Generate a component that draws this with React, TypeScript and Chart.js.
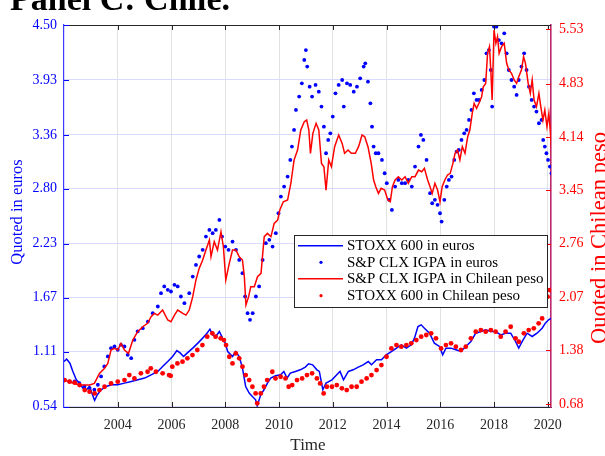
import React, { useEffect, useRef } from "react";
import { Chart, registerables } from "chart.js";

Chart.register(...registerables);

const SERIF = '"Liberation Serif", "Times New Roman", serif';

const xTickYears = [2004, 2006, 2008, 2010, 2012, 2014, 2016, 2018, 2020];
const leftTicks = [0.54, 1.11, 1.67, 2.23, 2.8, 3.36, 3.93, 4.5];
const rightTicks = [0.68, 1.38, 2.07, 2.76, 3.45, 4.14, 4.83, 5.53];

const legendLabels = [
  "STOXX 600 in euros",
  "S&P CLX IGPA in euros",
  "S&P CLX IGPA in Chilean peso",
  "STOXX 600 in Chilean peso",
];

// STOXX 600 in euros (left axis, line)
const stoxxEuros: [number, number][] = [
  [2002.0, 1.007], [2002.1, 1.032], [2002.22, 0.99], [2002.33, 0.904], [2002.46, 0.817], [2002.58, 0.783],
  [2002.7, 0.731], [2002.83, 0.713], [2002.95, 0.748], [2003.06, 0.662], [2003.14, 0.603], [2003.24, 0.662],
  [2003.38, 0.713], [2003.57, 0.748], [2003.76, 0.766], [2004.0, 0.766], [2004.25, 0.783], [2004.5, 0.8],
  [2004.75, 0.817], [2005.0, 0.835], [2005.24, 0.869], [2005.49, 0.904], [2005.67, 0.955], [2005.86, 1.007],
  [2006.04, 1.06], [2006.2, 1.12], [2006.33, 1.094], [2006.45, 1.06], [2006.58, 1.094], [2006.79, 1.146],
  [2006.98, 1.198], [2007.16, 1.25], [2007.32, 1.3], [2007.43, 1.343], [2007.53, 1.284], [2007.65, 1.267],
  [2007.78, 1.319], [2007.9, 1.25], [2008.0, 1.2], [2008.09, 1.111], [2008.27, 1.059], [2008.39, 1.111],
  [2008.52, 1.059], [2008.64, 0.939], [2008.76, 0.748], [2008.89, 0.679], [2009.01, 0.644], [2009.13, 0.61],
  [2009.19, 0.548], [2009.32, 0.662], [2009.44, 0.714], [2009.57, 0.783], [2009.69, 0.835], [2009.87, 0.859],
  [2010.06, 0.869], [2010.18, 0.904], [2010.3, 0.835], [2010.42, 0.887], [2010.61, 0.904], [2010.79, 0.921],
  [2010.98, 0.949], [2011.1, 0.983], [2011.25, 0.973], [2011.41, 0.921], [2011.5, 0.904], [2011.63, 0.714],
  [2011.75, 0.783], [2011.97, 0.817], [2012.15, 0.869], [2012.27, 0.904], [2012.4, 0.817], [2012.58, 0.904],
  [2012.76, 0.921], [2012.95, 0.949], [2013.13, 0.973], [2013.32, 1.007], [2013.44, 0.973], [2013.63, 1.025],
  [2013.81, 1.025], [2013.99, 1.077], [2014.18, 1.111], [2014.37, 1.146], [2014.55, 1.18], [2014.74, 1.146],
  [2014.92, 1.18], [2015.04, 1.25], [2015.17, 1.37], [2015.29, 1.388], [2015.41, 1.353], [2015.6, 1.301],
  [2015.78, 1.198], [2015.97, 1.163], [2016.09, 1.077], [2016.21, 1.146], [2016.4, 1.146], [2016.58, 1.129],
  [2016.77, 1.111], [2016.95, 1.163], [2017.14, 1.215], [2017.32, 1.301], [2017.51, 1.318], [2017.69, 1.336],
  [2017.88, 1.318], [2018.06, 1.318], [2018.25, 1.284], [2018.43, 1.301], [2018.62, 1.301], [2018.8, 1.215],
  [2018.92, 1.146], [2019.05, 1.215], [2019.23, 1.301], [2019.42, 1.267], [2019.6, 1.301], [2019.79, 1.353],
  [2019.91, 1.405], [2020.03, 1.44], [2020.14, 1.457],
];

// S&P CLX IGPA in euros (left axis, dots)
const igpaEuros: [number, number][] = [
  [2002.02, 0.817], [2002.2, 0.8], [2002.39, 0.8], [2002.57, 0.783], [2002.76, 0.748], [2002.95, 0.731],
  [2003.13, 0.714], [2003.26, 0.766], [2003.38, 0.852], [2003.5, 0.956], [2003.63, 1.06], [2003.75, 1.146],
  [2003.88, 1.163], [2004.0, 1.129], [2004.12, 1.18], [2004.25, 1.163], [2004.37, 1.077], [2004.5, 1.042],
  [2004.62, 1.232], [2004.74, 1.319], [2004.93, 1.353], [2005.12, 1.422], [2005.3, 1.509], [2005.49, 1.578],
  [2005.61, 1.716], [2005.73, 1.786], [2005.86, 1.751], [2005.98, 1.734], [2006.11, 1.803], [2006.23, 1.786],
  [2006.35, 1.682], [2006.48, 1.613], [2006.66, 1.716], [2006.79, 1.889], [2006.91, 2.01], [2007.03, 2.097],
  [2007.16, 2.166], [2007.28, 2.304], [2007.41, 2.373], [2007.53, 2.339], [2007.65, 2.373], [2007.78, 2.477],
  [2007.88, 2.304], [2008.0, 2.2], [2008.12, 2.166], [2008.27, 2.252], [2008.4, 2.166], [2008.52, 2.062],
  [2008.64, 1.924], [2008.74, 1.682], [2008.83, 1.509], [2008.92, 1.44], [2009.02, 1.509], [2009.14, 1.682],
  [2009.26, 1.786], [2009.39, 2.062], [2009.51, 2.235], [2009.64, 2.27], [2009.76, 2.2], [2009.88, 2.339],
  [2009.98, 2.546], [2010.07, 2.719], [2010.19, 2.823], [2010.32, 2.927], [2010.42, 3.1], [2010.48, 3.238],
  [2010.56, 3.411], [2010.63, 3.618], [2010.75, 3.757], [2010.85, 3.895], [2010.94, 4.137], [2011.0, 4.24],
  [2011.05, 4.068], [2011.14, 3.86], [2011.23, 3.757], [2011.36, 3.878], [2011.48, 3.808], [2011.58, 3.653],
  [2011.67, 3.445], [2011.75, 3.169], [2011.83, 3.307], [2011.91, 3.376], [2012.0, 3.549], [2012.1, 3.791],
  [2012.22, 3.878], [2012.35, 3.929], [2012.41, 3.653], [2012.53, 3.895], [2012.65, 3.878], [2012.78, 3.808],
  [2012.9, 3.86], [2013.02, 3.947], [2013.15, 4.068], [2013.21, 4.102], [2013.31, 3.912], [2013.4, 3.687],
  [2013.46, 3.445], [2013.52, 3.238], [2013.6, 3.169], [2013.7, 3.169], [2013.83, 3.1], [2013.93, 2.961],
  [2014.01, 2.858], [2014.1, 2.685], [2014.2, 2.581], [2014.32, 2.823], [2014.44, 2.892], [2014.57, 2.858],
  [2014.69, 2.858], [2014.81, 2.892], [2014.94, 2.823], [2015.06, 3.03], [2015.19, 3.238], [2015.28, 3.359],
  [2015.37, 3.307], [2015.49, 3.1], [2015.62, 2.754], [2015.7, 2.65], [2015.8, 2.685], [2015.9, 2.633],
  [2015.99, 2.546], [2016.05, 2.46], [2016.15, 2.685], [2016.24, 2.823], [2016.32, 2.892], [2016.42, 2.927],
  [2016.52, 3.1], [2016.61, 3.186], [2016.69, 3.203], [2016.79, 3.307], [2016.89, 3.376], [2016.98, 3.411],
  [2017.07, 3.515], [2017.16, 3.618], [2017.25, 3.791], [2017.35, 3.722], [2017.44, 3.722], [2017.54, 3.826],
  [2017.64, 3.929], [2017.72, 4.206], [2017.81, 4.24], [2017.88, 4.033], [2017.93, 3.653], [2018.0, 4.483],
  [2018.09, 4.483], [2018.18, 4.344], [2018.28, 4.31], [2018.38, 4.414], [2018.47, 4.206], [2018.55, 4.033],
  [2018.65, 3.929], [2018.75, 3.86], [2018.84, 3.774], [2018.92, 3.929], [2019.02, 4.068], [2019.12, 4.206],
  [2019.21, 4.033], [2019.3, 3.86], [2019.4, 3.722], [2019.49, 3.653], [2019.58, 3.601], [2019.67, 3.48],
  [2019.77, 3.515], [2019.83, 3.307], [2019.89, 3.238], [2019.95, 3.169], [2020.01, 3.1], [2020.08, 3.03],
  [2020.14, 2.961],
];

// S&P CLX IGPA in Chilean peso (right axis, line)
const igpaPeso: [number, number][] = [
  [2002.02, 0.995], [2002.2, 0.974], [2002.39, 0.952], [2002.57, 0.931], [2002.76, 0.931], [2002.95, 0.931],
  [2003.13, 0.952], [2003.32, 1.082], [2003.5, 1.146], [2003.63, 1.211], [2003.75, 1.384], [2003.88, 1.405],
  [2004.0, 1.384], [2004.12, 1.47], [2004.25, 1.384], [2004.4, 1.341], [2004.56, 1.513], [2004.74, 1.621],
  [2004.93, 1.685], [2005.11, 1.729], [2005.24, 1.815], [2005.36, 1.858], [2005.49, 1.836], [2005.67, 1.901],
  [2005.86, 1.772], [2005.98, 1.75], [2006.11, 1.836], [2006.23, 1.901], [2006.42, 1.858], [2006.54, 1.836],
  [2006.66, 1.901], [2006.79, 2.074], [2006.91, 2.29], [2007.03, 2.44], [2007.16, 2.548], [2007.28, 2.677],
  [2007.41, 2.807], [2007.47, 2.591], [2007.59, 2.785], [2007.71, 2.677], [2007.84, 2.914], [2007.93, 2.72],
  [2008.02, 2.29], [2008.15, 2.505], [2008.27, 2.677], [2008.4, 2.677], [2008.52, 2.591], [2008.64, 2.548],
  [2008.71, 2.332], [2008.77, 1.966], [2008.87, 2.074], [2008.95, 2.203], [2009.08, 2.203], [2009.2, 2.332],
  [2009.33, 2.375], [2009.45, 2.85], [2009.57, 2.893], [2009.7, 2.85], [2009.82, 3.022], [2009.95, 3.065],
  [2010.03, 3.195], [2010.16, 3.302], [2010.32, 3.324], [2010.44, 3.54], [2010.56, 3.841], [2010.69, 3.971],
  [2010.81, 4.23], [2010.94, 4.337], [2011.03, 4.359], [2011.11, 4.23], [2011.17, 3.928], [2011.26, 4.187],
  [2011.38, 4.316], [2011.48, 4.23], [2011.58, 3.798], [2011.67, 3.755], [2011.75, 3.453], [2011.85, 3.842],
  [2011.95, 3.755], [2012.07, 4.014], [2012.22, 4.165], [2012.35, 4.057], [2012.44, 3.928], [2012.57, 3.971],
  [2012.69, 3.928], [2012.84, 3.928], [2012.96, 4.014], [2013.09, 4.165], [2013.19, 4.143], [2013.31, 4.014],
  [2013.43, 3.798], [2013.52, 3.583], [2013.6, 3.497], [2013.7, 3.41], [2013.8, 3.475], [2013.93, 3.453],
  [2014.05, 3.324], [2014.14, 3.303], [2014.22, 3.497], [2014.32, 3.583], [2014.44, 3.626], [2014.57, 3.583],
  [2014.69, 3.626], [2014.81, 3.54], [2014.94, 3.626], [2015.06, 3.626], [2015.19, 3.712], [2015.31, 3.69],
  [2015.41, 3.734], [2015.53, 3.583], [2015.62, 3.497], [2015.7, 3.41], [2015.8, 3.54], [2015.9, 3.453],
  [2015.99, 3.303], [2016.07, 3.497], [2016.17, 3.583], [2016.27, 3.648], [2016.37, 3.669], [2016.47, 3.798],
  [2016.55, 3.928], [2016.64, 3.971], [2016.73, 3.842], [2016.82, 4.014], [2016.92, 3.928], [2017.02, 4.143],
  [2017.1, 4.23], [2017.19, 4.445], [2017.26, 4.575], [2017.35, 4.51], [2017.44, 4.575], [2017.54, 4.661],
  [2017.6, 4.79], [2017.69, 4.833], [2017.76, 5.222], [2017.83, 5.308], [2017.88, 5.006], [2017.93, 4.618],
  [2018.0, 5.523], [2018.07, 5.351], [2018.13, 5.437], [2018.19, 5.222], [2018.28, 5.308], [2018.38, 5.351],
  [2018.47, 5.092], [2018.55, 5.006], [2018.65, 4.963], [2018.75, 4.877], [2018.84, 4.833], [2018.92, 4.92],
  [2019.02, 5.006], [2019.1, 5.178], [2019.17, 5.092], [2019.27, 4.833], [2019.35, 4.704], [2019.42, 4.877],
  [2019.49, 4.618], [2019.58, 4.532], [2019.67, 4.704], [2019.74, 4.532], [2019.82, 4.359], [2019.89, 4.488],
  [2019.97, 4.273], [2020.04, 4.445], [2020.11, 4.143], [2020.16, 3.842],
];

// STOXX 600 in Chilean peso (right axis, dots)
const stoxxPeso: [number, number][] = [
  [2002.02, 0.995], [2002.21, 0.974], [2002.4, 0.961], [2002.58, 0.931], [2002.77, 0.866], [2002.95, 0.845],
  [2003.14, 0.823], [2003.32, 0.866], [2003.51, 0.909], [2003.75, 0.952], [2004.0, 0.974], [2004.25, 0.995],
  [2004.43, 1.06], [2004.62, 1.017], [2004.86, 1.082], [2005.11, 1.103], [2005.23, 1.147], [2005.42, 1.103],
  [2005.67, 1.082], [2005.91, 1.06], [2005.97, 1.05], [2006.03, 1.168], [2006.22, 1.211], [2006.41, 1.233],
  [2006.59, 1.276], [2006.78, 1.319], [2006.96, 1.384], [2007.15, 1.448], [2007.33, 1.556], [2007.52, 1.6],
  [2007.64, 1.556], [2007.83, 1.535], [2007.95, 1.513], [2008.03, 1.448], [2008.15, 1.297], [2008.27, 1.211],
  [2008.39, 1.34], [2008.52, 1.276], [2008.64, 1.168], [2008.76, 1.06], [2008.89, 0.995], [2009.01, 0.909],
  [2009.13, 0.823], [2009.19, 0.694], [2009.32, 0.823], [2009.44, 0.909], [2009.56, 0.995], [2009.75, 1.103],
  [2009.87, 1.017], [2010.06, 1.038], [2010.24, 1.017], [2010.36, 0.909], [2010.49, 0.931], [2010.67, 0.995],
  [2010.86, 1.017], [2011.04, 1.06], [2011.23, 1.082], [2011.41, 1.017], [2011.53, 0.952], [2011.66, 0.823],
  [2011.78, 0.909], [2011.97, 0.909], [2012.15, 0.931], [2012.34, 0.888], [2012.52, 0.866], [2012.7, 0.909],
  [2012.89, 0.909], [2013.07, 0.974], [2013.26, 1.017], [2013.44, 1.06], [2013.63, 1.125], [2013.81, 1.189],
  [2014.0, 1.297], [2014.18, 1.405], [2014.37, 1.448], [2014.55, 1.427], [2014.74, 1.448], [2014.92, 1.47],
  [2015.11, 1.513], [2015.29, 1.556], [2015.48, 1.578], [2015.66, 1.6], [2015.84, 1.535], [2016.03, 1.405],
  [2016.21, 1.448], [2016.4, 1.47], [2016.58, 1.427], [2016.77, 1.384], [2016.95, 1.427], [2017.14, 1.535],
  [2017.32, 1.621], [2017.51, 1.642], [2017.69, 1.621], [2017.88, 1.642], [2018.06, 1.621], [2018.25, 1.556],
  [2018.43, 1.621], [2018.62, 1.685], [2018.8, 1.535], [2018.92, 1.491], [2019.11, 1.6], [2019.29, 1.642],
  [2019.48, 1.664], [2019.66, 1.729], [2019.79, 1.793], [2019.91, 1.988], [2019.99, 2.073], [2020.07, 2.16],
];

const BLUE = "rgb(0,0,255)";
const RED = "rgb(255,0,0)";
const DARK = "#262626";

const toPoints = (arr: [number, number][]) => arr.map(([x, y]) => ({ x, y }));

const decorPlugin = {
  id: "decor",
  afterDraw(chart: any) {
    const { ctx, chartArea: a, scales } = chart;
    ctx.save();
    // top border
    ctx.strokeStyle = DARK;
    ctx.lineWidth = 1;
    ctx.beginPath();
    ctx.moveTo(a.left, a.top + 0.5);
    ctx.lineTo(a.right, a.top + 0.5);
    ctx.stroke();
    // x inward ticks
    ctx.beginPath();
    for (const t of xTickYears) {
      const px = Math.round(scales.x.getPixelForValue(t)) + 0.5;
      ctx.moveTo(px, a.bottom);
      ctx.lineTo(px, a.bottom - 5);
      ctx.moveTo(px, a.top);
      ctx.lineTo(px, a.top + 5);
    }
    ctx.stroke();
    // left ticks
    ctx.strokeStyle = BLUE;
    ctx.beginPath();
    for (const v of leftTicks) {
      const py = Math.round(scales.y.getPixelForValue(v)) + 0.5;
      ctx.moveTo(a.left, py);
      ctx.lineTo(a.left + 5, py);
    }
    ctx.stroke();
    // right ticks
    ctx.strokeStyle = RED;
    ctx.beginPath();
    for (const v of rightTicks) {
      const py = Math.round(scales.y1.getPixelForValue(v)) + 0.5;
      ctx.moveTo(a.right, py);
      ctx.lineTo(a.right - 5, py);
    }
    ctx.stroke();

    // axis titles
    ctx.textAlign = "center";
    ctx.textBaseline = "alphabetic";
    ctx.font = `17px ${SERIF}`;
    ctx.fillStyle = DARK;
    ctx.fillText("Time", 308, 450);
    ctx.save();
    ctx.translate(22, 212);
    ctx.rotate(-Math.PI / 2);
    ctx.font = `16.5px ${SERIF}`;
    ctx.fillStyle = BLUE;
    ctx.fillText("Quoted in euros", 0, 0);
    ctx.restore();
    ctx.save();
    ctx.translate(606, 238);
    ctx.rotate(-Math.PI / 2);
    ctx.font = `22.5px ${SERIF}`;
    ctx.fillStyle = RED;
    ctx.fillText("Quoted in Chilean peso", 0, 0);
    ctx.restore();

    // legend
    const bx = 294, by = 235, bw = 253, bh = 72;
    ctx.fillStyle = "#ffffff";
    ctx.fillRect(bx, by, bw, bh);
    ctx.strokeStyle = DARK;
    ctx.lineWidth = 1;
    ctx.strokeRect(bx + 0.5, by + 0.5, bw, bh);
    const rows = [245.7, 262.3, 278.8, 295.7];
    const kinds = ["line", "dot", "line", "dot"];
    const cols = [BLUE, BLUE, RED, RED];
    ctx.font = `15px ${SERIF}`;
    ctx.textAlign = "left";
    ctx.textBaseline = "middle";
    for (let i = 0; i < 4; i++) {
      const y = rows[i];
      if (kinds[i] === "line") {
        ctx.strokeStyle = cols[i];
        ctx.lineWidth = 1.5;
        ctx.beginPath();
        ctx.moveTo(298, y);
        ctx.lineTo(343, y);
        ctx.stroke();
      } else {
        ctx.fillStyle = cols[i];
        ctx.beginPath();
        ctx.arc(321, y, 1.6, 0, Math.PI * 2);
        ctx.fill();
      }
      ctx.fillStyle = "#000";
      ctx.fillText(legendLabels[i], 347, y + 0.5);
    }

    // panel title (cut off at the top)
    ctx.font = `bold 34px ${SERIF}`;
    ctx.textAlign = "left";
    ctx.textBaseline = "alphabetic";
    ctx.fillStyle = "#000";
    ctx.fillText("Panel C: Chile.", 10, 10);
    ctx.restore();
  },
};

export default function App() {
  const ref = useRef<HTMLCanvasElement | null>(null);
  useEffect(() => {
    if (!ref.current) return;
    const tickFont = { family: SERIF, size: 14 };
    const chart = new Chart(ref.current, {
      type: "scatter",
      data: {
        datasets: [
          {
            label: legendLabels[3],
            data: toPoints(stoxxPeso),
            yAxisID: "y1",
            showLine: false,
            pointRadius: 2.4,
            pointBorderWidth: 0,
            pointBackgroundColor: RED,
            backgroundColor: RED,
          },
          {
            label: legendLabels[2],
            data: toPoints(igpaPeso),
            yAxisID: "y1",
            showLine: true,
            borderColor: RED,
            borderWidth: 1.5,
            pointRadius: 0,
            fill: false,
          },
          {
            label: legendLabels[1],
            data: toPoints(igpaEuros),
            yAxisID: "y",
            showLine: false,
            pointRadius: 1.9,
            pointBorderWidth: 0,
            pointBackgroundColor: BLUE,
            backgroundColor: BLUE,
          },
          {
            label: legendLabels[0],
            data: toPoints(stoxxEuros),
            yAxisID: "y",
            showLine: true,
            borderColor: BLUE,
            borderWidth: 1.5,
            pointRadius: 0,
            fill: false,
          },
        ],
      } as any,
      options: {
        responsive: false,
        maintainAspectRatio: false,
        animation: false,
        layout: { padding: { top: 25, left: 0, right: 0, bottom: 0 } },
        plugins: {
          legend: { display: false },
          tooltip: { enabled: false },
          title: { display: false },
        },
        scales: {
          x: {
            type: "linear",
            position: "bottom",
            min: 2002.0,
            max: 2020.12,
            afterBuildTicks: (s: any) => {
              s.ticks = xTickYears.map((v) => ({ value: v }));
            },
            afterFit: (s: any) => {
              s.height = 49;
            },
            ticks: {
              font: tickFont,
              color: DARK,
              padding: 10,
              maxRotation: 0,
              callback: (v: any) => String(v),
            },
            grid: { color: "rgb(226,226,226)", lineWidth: 1, drawTicks: false },
            border: { display: true, color: DARK, width: 1 },
          },
          y: {
            type: "linear",
            position: "left",
            min: 0.535,
            max: 4.5,
            afterBuildTicks: (s: any) => {
              s.ticks = leftTicks.map((v) => ({ value: v }));
            },
            afterFit: (s: any) => {
              s.width = 64;
            },
            ticks: {
              font: tickFont,
              color: BLUE,
              padding: 7,
              callback: (v: any) => Number(v).toFixed(2),
            },
            grid: { color: "rgb(218,218,255)", lineWidth: 1, drawTicks: false },
            border: { display: true, color: "rgb(60,60,255)", width: 1.2 },
          },
          y1: {
            type: "linear",
            position: "right",
            min: 0.647,
            max: 5.588,
            afterBuildTicks: (s: any) => {
              s.ticks = rightTicks.map((v) => ({ value: v }));
            },
            afterFit: (s: any) => {
              s.width = 54;
            },
            ticks: {
              font: tickFont,
              color: RED,
              padding: 8,
              callback: (v: any) => Number(v).toFixed(2),
            },
            grid: { display: false, drawTicks: false },
            border: { display: true, color: "rgb(185,40,110)", width: 1.6 },
          },
        },
      } as any,
      plugins: [decorPlugin],
    });
    return () => chart.destroy();
  }, []);

  return (
    <div style={{ position: "absolute", left: 0, top: 0, width: 605, height: 456, background: "#fff" }}>
      <canvas ref={ref} width={605} height={456} style={{ display: "block", width: 605, height: 456 }} />
    </div>
  );
}
